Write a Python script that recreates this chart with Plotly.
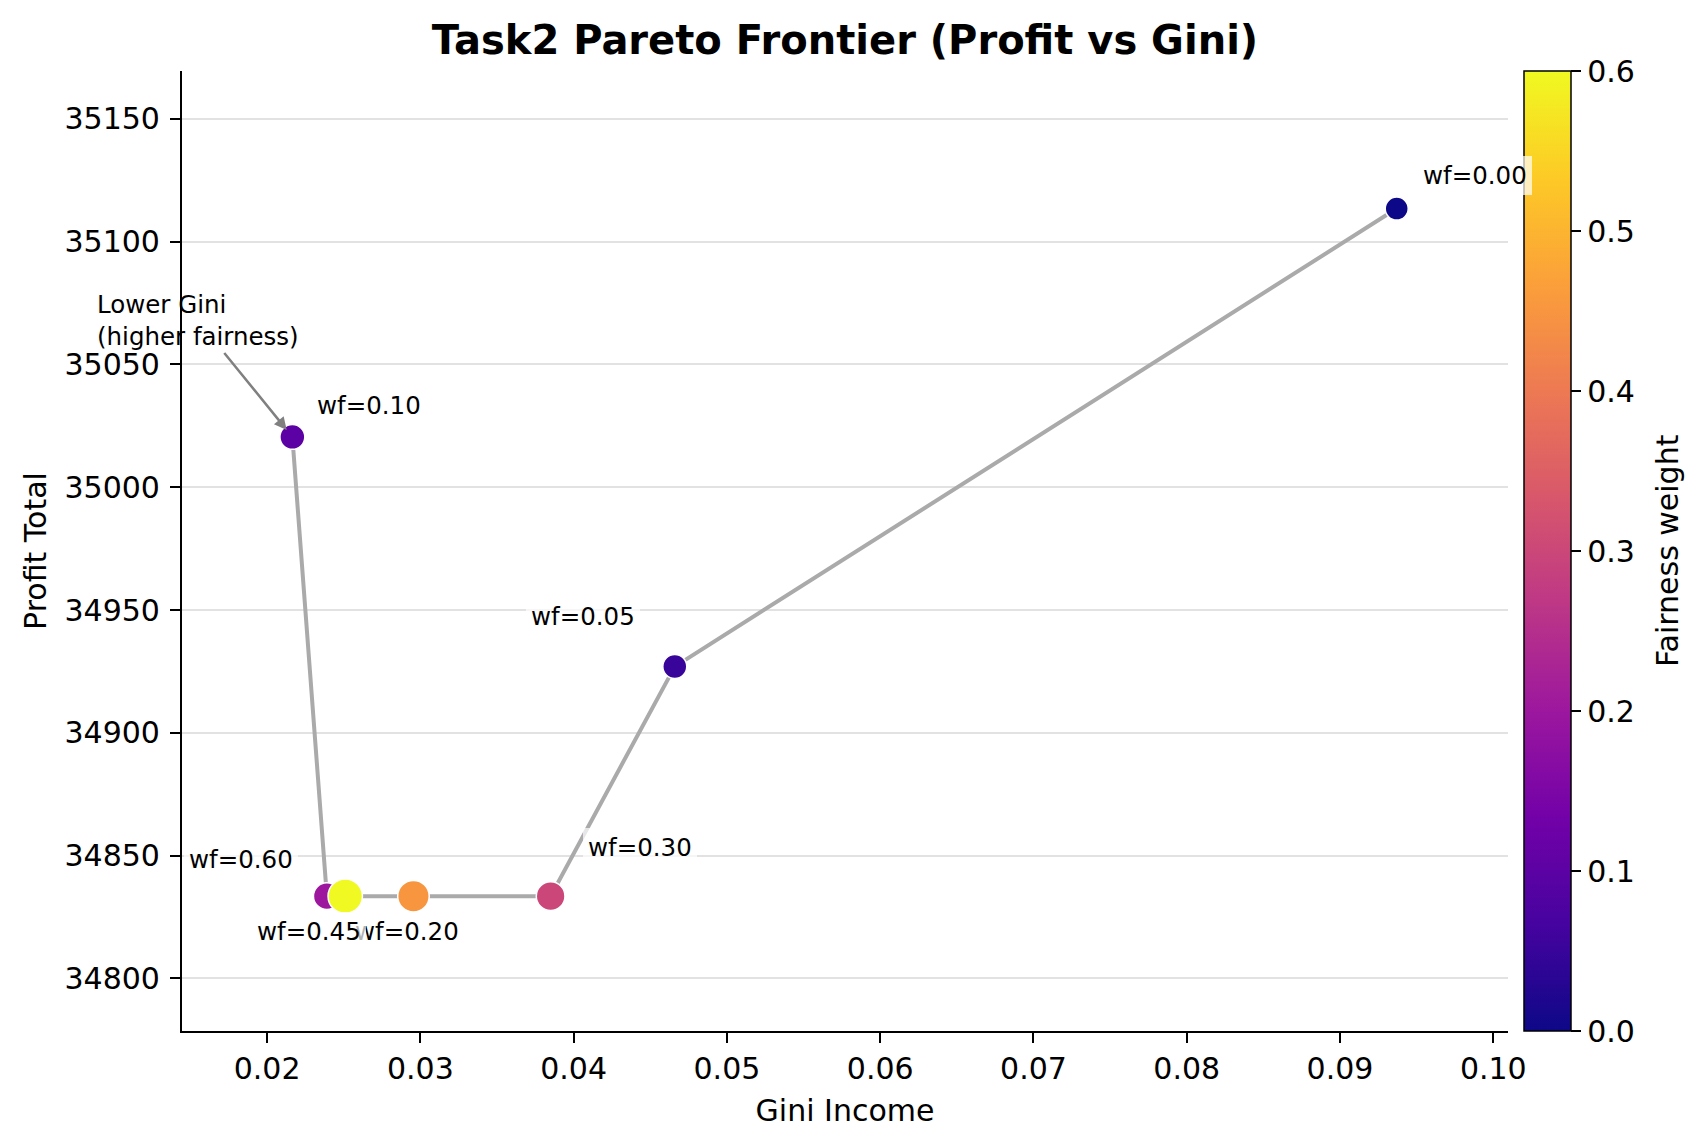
import plotly.graph_objects as go

# ---- data ----
wf_values = [0.00, 0.05, 0.10, 0.20, 0.30, 0.45, 0.60]
gini_income = [0.0937, 0.0466, 0.02165, 0.0239, 0.0385, 0.02955, 0.0251]
profit_total = [35113.5, 34927.0, 35020.5, 34833.5, 34833.5, 34833.5, 34833.5]
x_ticks = [0.02, 0.03, 0.04, 0.05, 0.06, 0.07, 0.08, 0.09, 0.10]
y_ticks = [34800, 34850, 34900, 34950, 35000, 35050, 35100, 35150]
cbar_ticks = [0.0, 0.1, 0.2, 0.3, 0.4, 0.5, 0.6]

# ---- label placement (style) ----
label_style = {
    0.00: dict(xanchor="left", xshift=21, yshift=33),
    0.05: dict(xanchor="right", xshift=-35, yshift=50),
    0.10: dict(xanchor="left", xshift=20, yshift=31),
    0.20: dict(xanchor="left", xshift=23, yshift=-35),
    0.30: dict(xanchor="left", xshift=32, yshift=49),
    0.45: dict(xanchor="right", xshift=-47, yshift=-35),
    0.60: dict(xanchor="right", xshift=-47, yshift=37),
}

FONT = "DejaVu Sans"

order = sorted(range(len(wf_values)), key=lambda i: gini_income[i])
line_x = [gini_income[i] for i in order]
line_y = [profit_total[i] for i in order]

fig = go.Figure()
fig.add_trace(go.Scatter(
    x=line_x, y=line_y, mode="lines",
    line=dict(color="#aaaaaa", width=4),
    hoverinfo="skip", showlegend=False,
))
fig.add_trace(go.Scatter(
    x=gini_income, y=profit_total, mode="markers",
    marker=dict(
        color=wf_values, colorscale="Plasma", cmin=0, cmax=0.6,
        size=[23 + 19 * w for w in wf_values], opacity=1,
        line=dict(color="white", width=1.5),
        colorbar=dict(
            x=1.0124, xanchor="left", xpad=0,
            y=0.5, yanchor="middle", ypad=0,
            len=1, lenmode="fraction",
            thickness=47, thicknessmode="pixels",
            outlinewidth=1.5, outlinecolor="black",
            ticks="outside", ticklen=10, tickwidth=2, tickcolor="black",
            tickvals=cbar_ticks, tickformat=".1f", tickprefix="\u2009",
            tickfont=dict(family=FONT, size=30, color="black"),
        ),
    ),
    showlegend=False,
))

annotations = []
for w, gx, py in zip(wf_values, gini_income, profit_total):
    st = label_style[w]
    annotations.append(dict(
        x=gx, y=py, xref="x", yref="y", text=f"wf={w:.2f}",
        showarrow=False, xanchor=st["xanchor"], yanchor="middle",
        xshift=st["xshift"], yshift=st["yshift"],
        font=dict(family=FONT, size=24.5, color="black"),
        bgcolor="rgba(255,255,255,0.7)", borderpad=5, borderwidth=0,
    ))

# arrow annotation pointing to the lowest-Gini point
i_min = min(range(len(gini_income)), key=lambda i: gini_income[i])
annotations.append(dict(
    x=gini_income[i_min], y=profit_total[i_min], xref="x", yref="y",
    text="Lower Gini<br>(higher fairness)", align="left",
    showarrow=True, arrowhead=2, arrowsize=1, arrowwidth=2.5,
    arrowcolor="#808080", ax=-94, ay=-116, standoff=9,
    font=dict(family=FONT, size=24.5, color="black"),
))

# colorbar title
annotations.append(dict(
    x=(1667 - 182) / 1326, y=0.5, xref="paper", yref="paper",
    text="Fairness weight", textangle=-90, showarrow=False,
    xanchor="center", yanchor="middle",
    font=dict(family=FONT, size=30, color="black"),
))

fig.update_layout(
    width=1705, height=1147,
    margin=dict(l=182, r=197, t=71, b=116),
    paper_bgcolor="white", plot_bgcolor="white",
    font=dict(family=FONT, color="black"),
    title=dict(text="<b>Task2 Pareto Frontier (Profit vs Gini)</b>",
               x=0.5, xref="paper", xanchor="center",
               y=1 - 40 / 1147, yref="container", yanchor="middle",
               font=dict(family=FONT, size=40, color="black")),
    annotations=annotations,
)
fig.update_xaxes(
    range=[0.01445, 0.10096], tickvals=x_ticks, tickformat=".2f",
    showgrid=False, zeroline=False,
    showline=True, linecolor="black", linewidth=2.2,
    ticks="outside", ticklen=10, tickwidth=2.2, tickcolor="black",
    tickfont=dict(family=FONT, size=30, color="black"),
    title=dict(text="Gini Income", standoff=15,
               font=dict(family=FONT, size=30, color="black")),
)
fig.update_yaxes(
    range=[34778.6, 35169.5], tickvals=y_ticks, tickformat="d",
    showgrid=True, gridcolor="#e2e2e2", gridwidth=2, zeroline=False,
    showline=True, linecolor="black", linewidth=2.2,
    ticks="outside", ticklen=10, tickwidth=2.2, tickcolor="black",
    ticklabelstandoff=4,
    tickfont=dict(family=FONT, size=30, color="black"),
    title=dict(text="Profit Total", standoff=9,
               font=dict(family=FONT, size=30, color="black")),
)

fig.write_html("out.html")
